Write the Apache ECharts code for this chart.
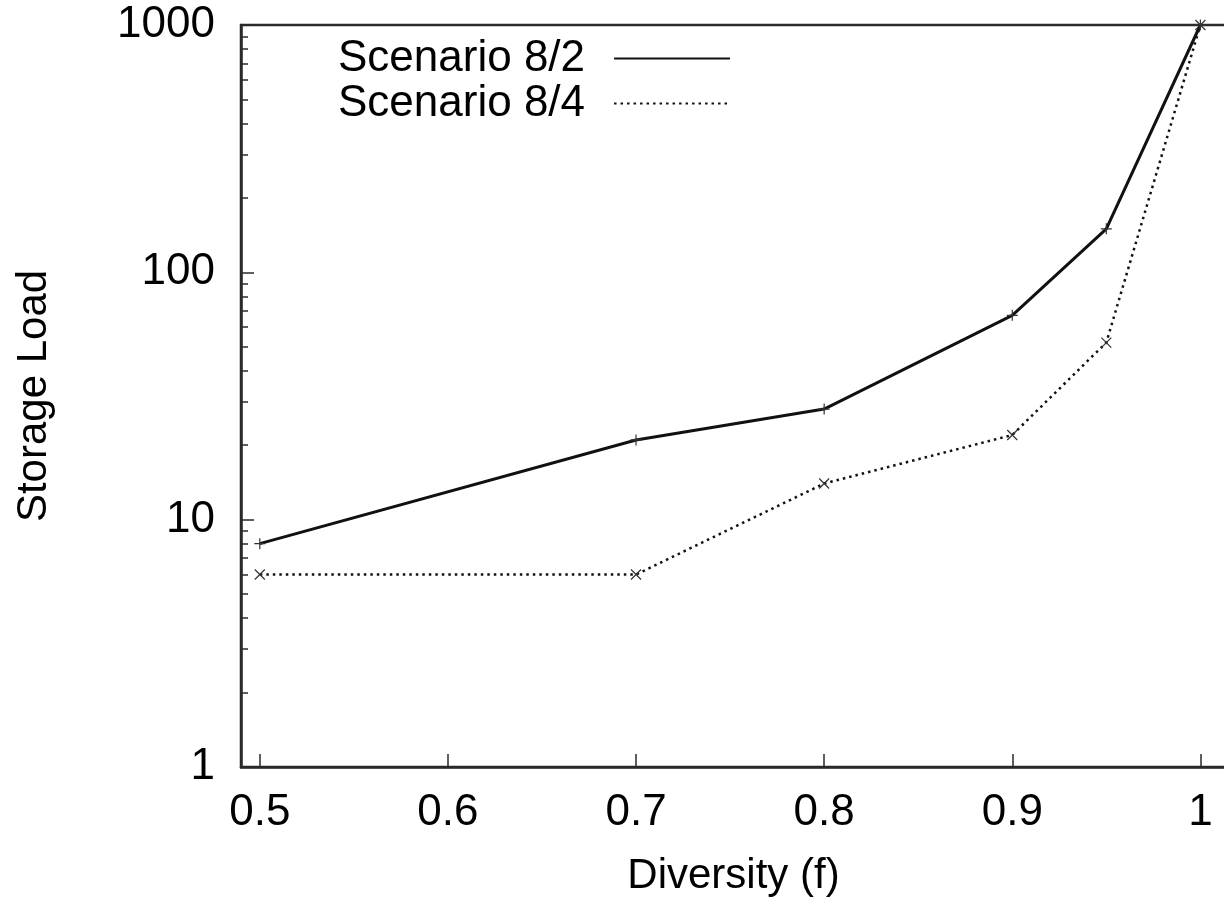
<!DOCTYPE html>
<html>
<head>
<meta charset="utf-8">
<script src="https://cdn.jsdelivr.net/npm/echarts@6/dist/echarts.min.js"></script>
<style>
  html, body { margin: 0; padding: 0; background: #fff; }
  #chart { width: 1224px; height: 901px; }
</style>
</head>
<body>
<div id="chart"></div>
<script>
// values
const diversity = [0.5, 0.7, 0.8, 0.9, 0.95, 1];
const scenario82 = [8, 21, 28, 67, 150, 1000];
const scenario84 = [6, 6, 14, 22, 52, 1000];
const xTicks = [0.5, 0.6, 0.7, 0.8, 0.9, 1];
const yMinorTicks = [2, 3, 4, 5, 6, 7, 8, 9, 20, 30, 40, 50, 60, 70, 80, 90, 200, 300, 400, 500, 600, 700, 800, 900];

const FONT = '"Liberation Sans", Arial, sans-serif';
const INK = '#000';
const AXIS = '#2a2a2a';

const plus = 'path://M0,5L10,5M5,0L5,10';
const cross = 'path://M0,0L10,10M0,10L10,0';

const chart = echarts.init(document.getElementById('chart'));

chart.setOption({
  backgroundColor: '#fff',
  animation: false,
  grid: {
    left: 241, right: -14, top: 25, bottom: 134,
    outerBoundsMode: 'none',
    containLabel: false,
    show: true, borderColor: AXIS, borderWidth: 2.5
  },
  legend: {
    orient: 'vertical',
    align: 'right',
    left: 338, top: 36,
    padding: 0,
    itemGap: 0,
    itemWidth: 116,
    itemHeight: 4,
    itemStyle: { color: 'rgba(0,0,0,0)', borderColor: 'rgba(0,0,0,0)' },
    textStyle: { fontFamily: FONT, fontSize: 44, color: INK, lineHeight: 45, padding: [0, 24, 0, 0] },
    data: ['Scenario 8/2', 'Scenario 8/4']
  },
  xAxis: {
    type: 'value',
    min: 0.49, max: 1.02,
    name: 'Diversity (f)',
    nameLocation: 'middle',
    nameGap: 88,
    nameTextStyle: { fontFamily: FONT, fontSize: 42, color: INK, padding: [0, 12, 0, 0] },
    axisLine: { lineStyle: { color: AXIS, width: 2.5 } },
    axisTick: { inside: true, length: 13, customValues: xTicks, lineStyle: { color: AXIS, width: 1.5 } },
    axisLabel: { customValues: xTicks, margin: 24, fontFamily: FONT, fontSize: 44, color: INK },
    splitLine: { show: false }
  },
  yAxis: [{
    type: 'log',
    logBase: 10,
    min: 1, max: 1000,
    name: 'Storage Load',
    nameLocation: 'middle',
    nameRotate: 90,
    nameGap: 186,
    nameTextStyle: { fontFamily: FONT, fontSize: 42, color: INK },
    axisLine: { show: true, lineStyle: { color: AXIS, width: 2.5 } },
    axisTick: { show: true, inside: true, length: 13, lineStyle: { color: AXIS, width: 1.5 } },
    axisLabel: { margin: 26, fontFamily: FONT, fontSize: 44, color: INK, formatter: v => String(v) },
    splitLine: { show: false }
  }, {
    type: 'log',
    logBase: 10,
    min: 1, max: 1000,
    position: 'left',
    axisLine: { show: false },
    axisTick: { show: true, inside: true, length: 7, customValues: yMinorTicks, lineStyle: { color: AXIS, width: 1.5 } },
    axisLabel: { show: false },
    splitLine: { show: false }
  }],
  series: [{
    name: 'Scenario 8/2',
    type: 'line',
    data: diversity.map((d, i) => [d, scenario82[i]]),
    symbol: plus,
    symbolSize: 11,
    showAllSymbol: true,
    lineStyle: { color: '#111', width: 3 },
    itemStyle: { color: 'rgba(0,0,0,0)', borderColor: '#333', borderWidth: 1.2 }
  }, {
    name: 'Scenario 8/4',
    type: 'line',
    data: diversity.map((d, i) => [d, scenario84[i]]),
    symbol: cross,
    symbolSize: 10,
    showAllSymbol: true,
    lineStyle: { color: '#111', width: 2.5, type: [2.5, 4] },
    itemStyle: { color: 'rgba(0,0,0,0)', borderColor: '#333', borderWidth: 1.2 }
  }]
});
</script>
</body>
</html>
